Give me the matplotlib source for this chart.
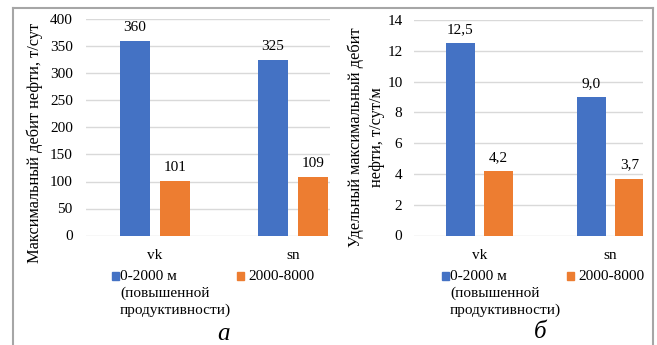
import matplotlib
matplotlib.use('Agg')
import matplotlib.pyplot as plt
from matplotlib.patches import Rectangle
from matplotlib.lines import Line2D
import numpy as np

# data
categories = ["vk", "sn"]
series_names = ["0-2000 м\n(повышенной\nпродуктивности)", "2000-8000"]
max_rate = [360, 325]          # 0-2000 м
max_rate_far = [101, 109]      # 2000-8000
spec_rate = [12.5, 9.0]
spec_rate_far = [4.2, 3.7]

blue = "#4472C4"
orange = "#ED7D31"
grid_c = "#D9D9D9"
frame_c = "#A6A6A6"

plt.rcParams['font.family'] = ['Liberation Serif', 'DejaVu Serif']

W, H = 657, 345
fig = plt.figure(figsize=(W / 100, H / 100), dpi=100)


def px(x0, y0, x1, y1):
    # pixel box -> figure fraction [left, bottom, width, height]
    return [x0 / W, 1 - y1 / H, (x1 - x0) / W, (y1 - y0) / H]


def draw_panel(ax, a, b, ymax, ystep, cat_px, fmt, pad):
    x = np.arange(len(categories))
    w = 0.22
    off = 0.145
    b1 = ax.bar(x - off, a, w, color=blue, zorder=3)
    b2 = ax.bar(x + off, b, w, color=orange, zorder=3)
    ax.bar_label(b1, labels=[fmt(v) for v in a], padding=5, fontsize=11)
    ax.bar_label(b2, labels=[fmt(v) for v in b], padding=5, fontsize=11)
    ax.set_ylim(0, ymax)
    ax.set_yticks(np.arange(0, ymax + ystep / 2, ystep))
    ax.set_xticks(x)
    ax.set_xticklabels(categories, fontsize=11.5)
    ax.set_xlim(-0.5, -0.5 + ax_w_px / cat_px)
    ax.grid(axis='y', color=grid_c, linewidth=1, zorder=0)
    for s in ax.spines.values():
        s.set_visible(False)
    ax.tick_params(axis='both', length=0, labelsize=11)
    ax.tick_params(axis='y', pad=pad)
    ax.tick_params(axis='x', pad=10)


# left panel
ax_w_px = 330 - 86
ax1 = fig.add_axes(px(86, 19.5, 330, 235.5))
draw_panel(ax1, max_rate, max_rate_far, 400, 50, 138, lambda v: f"{v:d}", 9.5)

# right panel
ax_w_px = 643 - 414
ax2 = fig.add_axes(px(414, 20, 643, 235.5))
draw_panel(ax2, spec_rate, spec_rate_far, 14, 2, 131,
           lambda v: f"{v:.1f}".replace('.', ','), 8.3)

# axis titles
fig.text(35 / W, 1 - 142.5 / H, "Максимальный дебит нефти, т/сут",
         rotation=90, ha='center', va='center', fontsize=11.8)
fig.text(366 / W, 1 - 137.5 / H, "Удельный максимальный дебит\nнефти, т/сут/м",
         rotation=90, ha='center', va='center', fontsize=11.8,
         multialignment='center', linespacing=1.4)

# legends
for dx in (0, 330):
    for sx, tx, col, lab in [(111.7, 120, blue, series_names[0]),
                             (236.7, 248, orange, series_names[1])]:
        fig.add_artist(Rectangle(((sx + dx) / W, 1 - 280 / H), 7.5 / W, 8 / H,
                                 transform=fig.transFigure, color=col))
        fig.text((tx + dx) / W, 1 - 270 / H, lab, ha='left', va='top',
                 fontsize=11, linespacing=1.35)

# captions
fig.text(223 / W, 1 - 334 / H, "а", style='italic', fontsize=18,
         ha='center', va='center')
fig.text(540 / W, 1 - 332 / H, "б", style='italic', fontsize=18,
         ha='center', va='center')

# frame
lw = 1.5
fig.add_artist(Line2D([12.5 / W, 12.5 / W], [0, 1 - 7.5 / H], color=frame_c, lw=lw,
                      transform=fig.transFigure))
fig.add_artist(Line2D([12.5 / W, 653 / W], [1 - 7.5 / H, 1 - 7.5 / H], color=frame_c,
                      lw=lw, transform=fig.transFigure))
fig.add_artist(Line2D([653 / W, 653 / W], [0, 1 - 7.5 / H], color=frame_c, lw=lw,
                      transform=fig.transFigure))

fig.savefig("out.png", dpi=100, facecolor='white')
